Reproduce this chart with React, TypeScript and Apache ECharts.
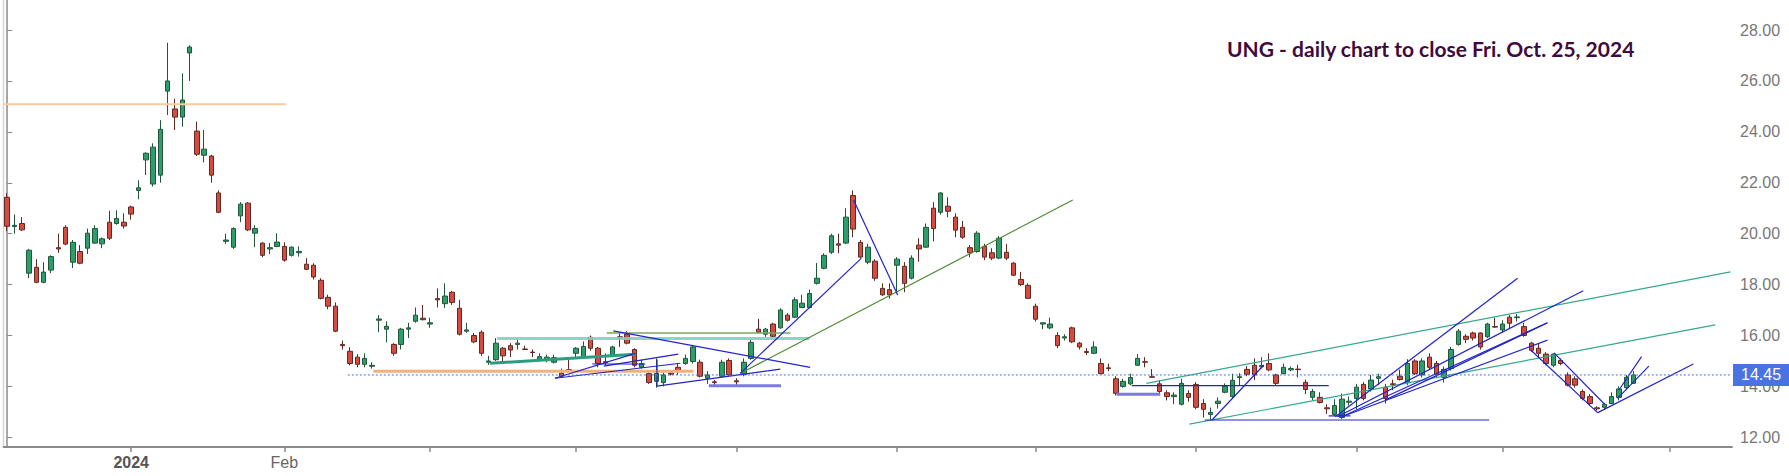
import React, { useEffect, useRef } from 'react';
import * as echarts from 'echarts';

// ---- categories: trading days (NYSE) from Dec 6, 2023 to Nov 13, 2024 (right padding) ----
const FIRST_DAY = '2023-12-06';
const LAST_DAY = '2024-11-13';
const HOLIDAYS = ['2023-12-25', '2024-01-01', '2024-01-15', '2024-02-19', '2024-03-29', '2024-05-27', '2024-06-19', '2024-07-04', '2024-09-02'];
const LABELLED_DAYS = ['2024-01-02', '2024-02-01'];
const LABEL_TEXT = ['2024', 'Feb'];

// ---- daily candles: [open, high, low, close] ----
const candles: [number, number, number, number][] = [
  [21.43, 21.6, 20.1, 20.29], [20.28, 20.75, 20.0, 20.33], [20.4, 20.65, 20.1, 20.15], [18.45, 19.4, 18.25, 19.35],
  [18.68, 19.0, 18.05, 18.09], [18.09, 18.88, 18.05, 18.49], [18.57, 19.15, 18.45, 19.1], [19.45, 20.0, 19.25, 19.4],
  [20.25, 20.33, 19.55, 19.59], [18.88, 19.75, 18.65, 19.66], [19.3, 19.55, 18.8, 18.84], [19.43, 20.2, 19.2, 20.02],
  [19.63, 20.33, 19.6, 20.2], [19.6, 19.85, 19.43, 19.8], [20.45, 20.9, 19.75, 19.82], [20.4, 20.92, 20.35, 20.6],
  [20.45, 20.8, 20.2, 20.3], [21.05, 21.1, 20.55, 20.77], [21.7, 22.1, 21.35, 21.8], [22.9, 23.2, 22.3, 23.16],
  [21.95, 23.55, 21.85, 23.4], [22.3, 24.46, 22.0, 24.1], [25.6, 27.5, 24.66, 26.0], [24.9, 25.3, 24.07, 24.58],
  [24.58, 26.3, 24.2, 25.25], [27.1, 27.4, 26.0, 27.33], [24.03, 24.4, 23.05, 23.12], [23.08, 24.07, 22.8, 23.32],
  [23.05, 23.1, 22.0, 22.3], [21.6, 21.7, 20.8, 20.84], [19.7, 20.0, 19.6, 19.75], [19.47, 20.25, 19.4, 20.2],
  [20.7, 21.24, 20.45, 21.16], [21.2, 21.24, 20.1, 20.15], [20.02, 20.33, 19.47, 20.2], [19.63, 19.66, 19.08, 19.15],
  [19.4, 19.63, 19.2, 19.45], [19.5, 20.02, 19.47, 19.67], [19.5, 19.66, 18.9, 18.96], [19.15, 19.5, 19.1, 19.47],
  [19.25, 19.5, 19.1, 19.3], [18.8, 19.04, 18.57, 18.6], [18.76, 18.84, 18.2, 18.3], [18.17, 18.25, 17.42, 17.46],
  [17.5, 17.6, 17.03, 17.15], [17.15, 17.3, 16.13, 16.17], [15.65, 15.8, 15.45, 15.6], [15.38, 15.54, 14.83, 14.9],
  [15.15, 15.27, 14.75, 14.87], [14.87, 15.3, 14.75, 15.1], [14.79, 14.95, 14.7, 14.83], [16.6, 16.8, 16.13, 16.65],
  [16.25, 16.56, 15.73, 16.36], [15.65, 15.7, 15.2, 15.3], [15.65, 16.3, 15.45, 16.25], [16.25, 16.5, 15.9, 16.3],
  [16.56, 17.1, 16.5, 16.8], [16.68, 17.2, 16.6, 16.62], [16.45, 16.7, 16.3, 16.5], [17.45, 17.85, 17.1, 17.4],
  [17.25, 18.05, 17.08, 17.55], [17.7, 17.75, 17.2, 17.3], [17.07, 17.4, 16.0, 16.05], [16.17, 16.5, 16.1, 16.22],
  [16.0, 16.1, 15.7, 15.75], [16.13, 16.2, 15.2, 15.3], [14.95, 15.2, 14.85, 15.0], [15.05, 15.9, 15.0, 15.7],
  [15.5, 15.55, 15.0, 15.2], [15.6, 15.7, 15.15, 15.43], [15.65, 15.9, 15.45, 15.7], [15.47, 15.6, 15.45, 15.45],
  [15.35, 15.45, 15.15, 15.33], [15.05, 15.3, 15.0, 15.17], [15.02, 15.25, 14.95, 15.15], [14.95, 15.25, 14.9, 15.13],
  [14.52, 14.7, 14.35, 14.4], [14.66, 15.05, 14.64, 14.65], [15.3, 15.55, 15.1, 15.5], [15.15, 15.77, 15.1, 15.57],
  [15.93, 16.0, 15.4, 15.5], [15.5, 15.55, 14.75, 14.9], [14.97, 15.3, 14.83, 14.93], [15.2, 15.6, 15.15, 15.55],
  [15.95, 16.13, 15.55, 15.9], [16.05, 16.17, 15.65, 15.7], [15.45, 15.5, 14.75, 14.83], [14.75, 15.05, 14.7, 14.9],
  [14.5, 14.6, 14.1, 14.15], [14.2, 15.1, 13.95, 14.52], [14.15, 14.55, 14.0, 14.45], [14.52, 14.6, 14.43, 14.48],
  [14.75, 14.9, 14.45, 14.6], [14.9, 15.25, 14.85, 15.1], [14.98, 15.6, 14.9, 15.55], [14.95, 15.05, 14.35, 14.4],
  [14.32, 14.6, 14.1, 14.45], [14.18, 14.25, 14.03, 14.15], [14.4, 15.05, 14.35, 14.95], [15.02, 15.1, 14.4, 14.45],
  [14.22, 14.32, 14.05, 14.18], [14.47, 15.1, 14.4, 14.95], [15.1, 15.85, 15.05, 15.73], [16.25, 16.65, 16.1, 16.13],
  [16.05, 16.3, 15.95, 16.25], [16.45, 16.5, 15.9, 15.97], [16.3, 17.07, 16.27, 17.0], [16.8, 16.88, 16.55, 16.6],
  [16.72, 17.5, 16.68, 17.4], [17.1, 17.6, 17.1, 17.27], [17.1, 17.8, 17.07, 17.65], [18.05, 18.85, 18.0, 18.25],
  [18.64, 19.23, 18.6, 19.15], [19.27, 20.0, 19.2, 19.92], [19.6, 20.0, 19.23, 19.55], [19.63, 21.0, 19.6, 20.65],
  [21.5, 21.7, 19.86, 20.18], [19.66, 19.75, 19.03, 19.08], [18.88, 19.6, 18.8, 19.47], [18.92, 19.0, 18.15, 18.25],
  [17.85, 18.05, 17.55, 17.6], [17.8, 18.05, 17.45, 17.6], [18.76, 19.08, 17.65, 19.0], [18.72, 18.88, 17.7, 18.05],
  [18.25, 19.15, 18.2, 19.04], [19.55, 19.82, 18.9, 19.4], [19.47, 20.4, 19.45, 20.25], [21.0, 21.24, 19.7, 20.2],
  [20.84, 21.63, 20.75, 21.6], [21.08, 21.43, 20.65, 20.88], [20.65, 20.8, 19.86, 20.14], [20.25, 20.5, 19.8, 19.86],
  [19.45, 19.55, 19.08, 19.25], [19.3, 20.1, 19.25, 20.02], [19.5, 19.6, 18.96, 19.08], [19.25, 19.43, 18.96, 19.04],
  [19.04, 19.9, 19.0, 19.82], [19.27, 19.6, 18.96, 19.04], [18.84, 18.88, 18.33, 18.37], [18.2, 18.5, 17.95, 18.0],
  [17.97, 18.05, 17.45, 17.46], [17.15, 17.25, 16.55, 16.64], [16.45, 16.5, 16.25, 16.5], [16.3, 16.7, 16.25, 16.45],
  [16.0, 16.13, 15.5, 15.6], [15.9, 16.05, 15.8, 15.95], [16.3, 16.35, 15.7, 15.75], [15.7, 15.75, 15.45, 15.55],
  [15.37, 15.5, 15.23, 15.33], [15.3, 15.77, 15.27, 15.55], [14.9, 15.1, 14.48, 14.5], [14.73, 14.9, 14.6, 14.7],
  [14.3, 14.4, 13.65, 13.73], [14.0, 14.3, 13.95, 14.2], [14.1, 14.5, 14.05, 14.35], [14.83, 15.27, 14.8, 15.1],
  [14.97, 15.15, 14.75, 14.95], [14.38, 14.68, 14.36, 14.36], [14.1, 14.25, 13.7, 13.8], [13.75, 13.85, 13.45, 13.6],
  [13.6, 13.77, 13.3, 13.66], [13.3, 14.3, 13.25, 14.12], [13.72, 13.85, 13.4, 13.57], [14.08, 14.17, 13.1, 13.18],
  [13.33, 13.5, 12.78, 13.1], [12.9, 13.17, 12.67, 12.98], [13.33, 13.57, 13.13, 13.42], [13.77, 14.12, 13.73, 14.0],
  [13.6, 14.5, 13.55, 14.24], [14.35, 14.52, 14.05, 14.38], [14.67, 14.8, 14.4, 14.48], [14.83, 15.1, 14.25, 14.45],
  [14.77, 15.15, 14.7, 14.82], [14.9, 15.3, 14.6, 14.65], [14.45, 14.5, 14.05, 14.12], [14.5, 14.9, 14.48, 14.75],
  [14.65, 14.78, 14.6, 14.7], [14.68, 14.85, 14.36, 14.66], [14.16, 14.27, 13.7, 13.88], [13.57, 13.9, 13.45, 13.8],
  [13.57, 13.77, 13.33, 13.37], [13.16, 13.3, 12.92, 13.12], [12.9, 13.5, 12.85, 13.25], [12.78, 13.72, 12.72, 13.5],
  [13.38, 13.6, 13.25, 13.42], [13.53, 14.1, 13.1, 13.97], [14.08, 14.17, 13.45, 13.53], [13.9, 14.45, 13.8, 14.25],
  [14.32, 14.5, 14.05, 14.38], [13.97, 14.1, 13.33, 13.53], [14.1, 14.27, 13.85, 14.08], [14.4, 14.66, 14.23, 14.27],
  [14.15, 15.07, 14.05, 14.9], [15.0, 15.07, 14.45, 14.5], [14.45, 15.1, 14.35, 15.0], [15.15, 15.3, 14.65, 14.75],
  [14.9, 15.0, 14.36, 14.47], [14.36, 14.78, 14.15, 14.67], [14.7, 15.55, 14.62, 15.45], [15.65, 16.25, 15.6, 16.17],
  [15.97, 16.05, 15.7, 15.85], [16.1, 16.15, 15.8, 15.9], [16.1, 16.13, 15.45, 15.55], [15.95, 16.5, 15.9, 16.45],
  [16.35, 16.7, 16.3, 16.33], [16.22, 16.6, 16.1, 16.45], [16.72, 16.8, 16.25, 16.48], [16.7, 16.85, 16.55, 16.73],
  [16.35, 16.5, 15.95, 16.0], [15.7, 15.75, 15.35, 15.42], [15.5, 15.7, 15.15, 15.3], [15.27, 15.35, 14.83, 14.9],
  [14.83, 15.3, 14.75, 15.27], [15.02, 15.1, 14.83, 14.9], [14.45, 14.55, 14.0, 14.05], [14.3, 14.4, 13.95, 14.05],
  [13.8, 13.88, 13.45, 13.53], [13.6, 13.7, 13.25, 13.33], [13.16, 13.22, 13.05, 13.12], [13.18, 13.35, 13.1, 13.3],
  [13.33, 13.77, 13.3, 13.6], [13.57, 14.0, 13.45, 13.9], [13.95, 14.45, 13.85, 14.36], [14.12, 14.6, 14.1, 14.45],
];

const LAST_PRICE = 14.45;

// ---- hand-drawn trendlines: [fromIndex, fromPrice, toIndex, toPrice] ----
type Seg = [number, number, number, number];
const blueLines: Seg[] = [
  [116.05, 21.32, 122.1, 17.59], [100.5, 14.51, 117.1, 19.03], [83.1, 16.18, 110.1, 14.75],
  [75.1, 14.32, 86.1, 15.3], [75.1, 14.32, 92.3, 14.91], [80.2, 14.88, 87.5, 14.88],
  [81.8, 14.8, 92.0, 15.27], [89.1, 15.06, 89.1, 14.01], [89.1, 14.01, 106.0, 14.68],
  [154.2, 14.03, 181.2, 14.03], [164.2, 12.68, 203.2, 12.68], [165.2, 12.68, 172.3, 14.84],
  [181.2, 12.84, 184.2, 12.84], [182.1, 12.81, 207.1, 18.25], [182.4, 12.81, 216.1, 17.76],
  [183.0, 12.81, 211.2, 16.5], [183.0, 12.81, 211.2, 15.82], [189.0, 13.47, 211.2, 16.5],
  [208.9, 15.43, 218.1, 12.96], [212.1, 15.32, 219.0, 13.31], [218.1, 12.97, 231.2, 14.88],
  [220.8, 13.53, 225.1, 14.8], [221.0, 13.86, 224.1, 15.17],
];
const lightBlueBands: Seg[] = [[96.2, 14.03, 106.1, 14.03], [152.1, 13.69, 158.1, 13.69]];
const tealLines: Seg[] = [[156.2, 14.12, 236.3, 18.5], [162.1, 12.52, 234.2, 16.42]];
const tealLightBands: Seg[] = [[67.2, 15.88, 110.0, 15.88]];
const tealDarkBands: Seg[] = [[66.2, 14.91, 86.1, 15.26]];
const oliveLines: Seg[] = [[82.2, 16.1, 107.4, 16.1]];
const greenLines: Seg[] = [[100.5, 14.51, 146.1, 21.32]];
const orangeTopLines: Seg[] = [[-0.4, 25.08, 38.2, 25.08]];
const orangeLowLines: Seg[] = [[50.2, 14.6, 94.1, 14.6]];
const lastPriceLine: Seg = [46.7, LAST_PRICE, 236.5, LAST_PRICE];

const TITLE = 'UNG - daily chart to close Fri. Oct. 25, 2024';

function buildDays(): string[] {
  const out: string[] = [];
  const d = new Date(FIRST_DAY + 'T00:00:00Z');
  const end = new Date(LAST_DAY + 'T00:00:00Z');
  while (d.getTime() <= end.getTime()) {
    const wd = d.getUTCDay();
    const s = d.toISOString().slice(0, 10);
    if (wd !== 0 && wd !== 6 && HOLIDAYS.indexOf(s) < 0) out.push(s);
    d.setUTCDate(d.getUTCDate() + 1);
  }
  return out;
}

export default function App() {
  const ref = useRef<HTMLDivElement>(null);
  useEffect(() => {
    if (!ref.current) return;
    const chart = echarts.init(ref.current, undefined, { renderer: 'svg' });
    const days = buildDays();
    const n = days.length;
    const monthStarts = new Set<number>();
    for (let k = 1; k < n; k++) if (days[k].slice(5, 7) !== days[k - 1].slice(5, 7)) monthStarts.add(k);

    const segSeries = (segs: Seg[], color: string, width: number, opacity = 1, z = 3) =>
      segs.map((s) => ({
        type: 'line',
        xAxisIndex: 1,
        yAxisIndex: 0,
        data: [[s[0], s[1]], [s[2], s[3]]],
        symbol: 'none',
        silent: true,
        z,
        lineStyle: { color, width, opacity },
      }));

    const option: any = {
      animation: false,
      backgroundColor: '#ffffff',
      grid: { left: 3.6, right: 57, top: 0, bottom: 29, containLabel: false },
      xAxis: [
        {
          type: 'category',
          data: days,
          boundaryGap: true,
          axisLine: { lineStyle: { color: '#8a8a8a', width: 2 } },
          axisTick: {
            show: true,
            alignWithLabel: true,
            length: 5,
            interval: (idx: number) => monthStarts.has(idx),
            lineStyle: { color: '#8a8a8a', width: 1.5 },
          },
          axisLabel: {
            interval: (idx: number, val: string) => LABELLED_DAYS.indexOf(val) >= 0,
            formatter: (val: string) => {
              const k = LABELLED_DAYS.indexOf(val);
              if (k < 0) return '';
              return k === 0 ? '{b|' + LABEL_TEXT[k] + '}' : LABEL_TEXT[k];
            },
            color: '#666',
            fontSize: 16,
            fontFamily: 'Liberation Sans, Arial, sans-serif',
            margin: 7,
            rich: { b: { fontWeight: 'bold', color: '#555', fontSize: 16, fontFamily: 'Liberation Sans, Arial, sans-serif' } },
          },
          splitLine: { show: false },
        },
        { type: 'value', min: -0.5, max: n - 0.5, show: false },
      ],
      yAxis: [
        {
          type: 'value',
          position: 'right',
          min: 11.62,
          max: 29.18,
          splitNumber: 9,
          scale: true,
          axisLine: { show: true, lineStyle: { color: '#8a8a8a', width: 1.5 } },
          axisTick: { show: true, length: 5, lineStyle: { color: '#8a8a8a' } },
          axisLabel: {
            formatter: (v: number) => v.toFixed(2),
            color: '#777',
            fontSize: 16,
            fontFamily: 'Liberation Sans, Arial, sans-serif',
            margin: 8,
            showMinLabel: false,
            showMaxLabel: false,
          },
          splitLine: { show: false },
        },
      ],
      graphic: [
        { type: 'line', shape: { x1: 3.5, y1: 0, x2: 3.5, y2: 447 }, style: { stroke: '#d4d4d4', lineWidth: 1.5 }, silent: true },
        {
          type: 'text',
          x: 1227,
          y: 48,
          style: {
            text: TITLE,
            fill: '#3f0a3f',
            font: 'bold 21px Lato, "Open Sans", sans-serif',
            verticalAlign: 'middle',
            align: 'left',
          },
        },
      ],
      series: [
        {
          type: 'candlestick',
          xAxisIndex: 0,
          yAxisIndex: 0,
          barWidth: 5,
          z: 2,
          data: candles.map((c) => [c[0], c[3], c[2], c[1]]),
          itemStyle: {
            color: '#2b9e69',
            color0: '#d64a3f',
            borderColor: '#22553a',
            borderColor0: '#5e2a24',
            borderWidth: 1,
          },
        },
        ...segSeries(orangeTopLines, '#f9cb9e', 2),
        ...segSeries(orangeLowLines, '#f2b07a', 3),
        ...segSeries(tealLightBands, '#7fcfbf', 3, 0.9),
        ...segSeries(tealDarkBands, '#2a9c80', 3),
        ...segSeries(oliveLines, '#7aa860', 1.5),
        ...segSeries(greenLines, '#4d8a36', 1.2),
        ...segSeries(tealLines, '#35a88e', 1.2),
        ...segSeries(lightBlueBands, '#7a7ae2', 3),
        ...segSeries(blueLines, '#2323cc', 1.2),
        {
          type: 'line',
          xAxisIndex: 1,
          yAxisIndex: 0,
          data: [[lastPriceLine[0], lastPriceLine[1]], [lastPriceLine[2], lastPriceLine[3]]],
          symbol: 'none',
          silent: true,
          z: 4,
          lineStyle: { color: '#4a6ee0', width: 1, type: [2, 2] },
          endLabel: {
            show: true,
            formatter: () => LAST_PRICE.toFixed(2),
            backgroundColor: '#4a73e2',
            color: '#ffffff',
            fontSize: 16,
            fontFamily: 'Liberation Sans, Arial, sans-serif',
            padding: [3, 8, 3, 8],
            distance: 1,
          },
        },
      ],
    };
    chart.setOption(option);
    return () => chart.dispose();
  }, []);
  return (
    <div
      ref={ref}
      style={{ position: 'fixed', left: 0, top: 0, width: '1789px', height: '476px', background: '#fff' }}
    />
  );
}
